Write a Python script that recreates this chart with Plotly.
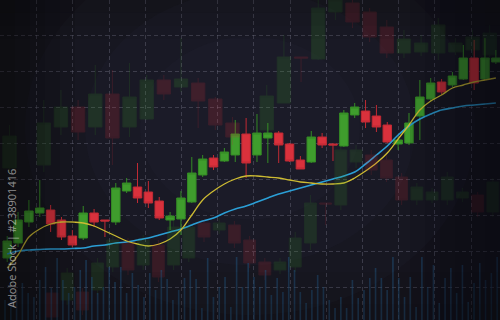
import plotly.graph_objects as go

# ---------------- data ----------------
# foreground candles (index 0..45)
fg_open  = [62, 77, 98, 107, 110, 100, 84, 82, 107, 100, 98, 129, 133, 128, 119, 100, 101, 118, 145, 162,
            159, 165, 186, 165, 182, 187, 176, 160, 158, 183, 176, 174, 205, 209, 204, 195, 176, 177, 204, 221,
            238, 235, 241, 262, 241, 258]
fg_high  = [84, 108, 120, 140, 115, 103, 90, 114, 111, 100, 137, 142, 157, 139, 123, 108, 129, 163, 165, 165,
            172, 200, 202, 206, 197, 189, 177, 164, 189, 187, 177, 210, 217, 220, 215, 198, 183, 207, 240, 242,
            241, 248, 275, 280, 282, 270]
fg_low   = [58, 73, 93, 103, 88, 80, 73, 80, 93, 83, 95, 127, 117, 112, 100, 90, 85, 117, 143, 150,
            158, 158, 142, 158, 157, 157, 158, 151, 157, 172, 159, 173, 202, 192, 188, 177, 170, 175, 180, 218,
            225, 233, 240, 230, 240, 256]
fg_close = [79, 100, 109, 112, 96, 83, 75, 107, 98, 99, 132, 137, 122, 117, 102, 104, 122, 147, 161, 153,
            168, 186, 157, 187, 187, 175, 159, 151, 183, 175, 175, 207, 213, 198, 193, 178, 180, 197, 223, 237,
            228, 244, 262, 237, 262, 262]

# moving averages sampled at each foreground candle
ma_slow = [52, 65, 83, 91, 96, 98, 98, 97, 94, 89, 84, 79, 76, 74, 76, 81, 90, 105, 120, 129,
           136, 141, 144, 144, 143, 142, 140, 138, 137, 136, 136, 137, 142, 149, 157, 167, 181, 195, 210, 219,
           225, 232, 235, 238, 240, 242]
ma_long = [66, 69, 70, 70.5, 71, 71, 71.5, 72, 74, 75, 77, 78, 80, 82, 85, 88, 91, 95, 99, 102,
           107, 111, 114, 118, 122, 126, 129, 132, 135, 138, 141, 144, 148, 156, 165, 174, 185, 194, 201, 206,
           210, 212, 214, 215, 216, 217]

# faded background candles, upper layer (index 0..28)
bgA_open  = [152, None, 155, 193, 213, 193, 226, 193, 201, 240, 233, 237, 221, 197, None, 190, 217, 263, 261, 308,
             317, 308, 293, 267, 268, 267, 268, 270, 265]
bgA_high  = [195, None, 220, 230, 220, 255, 250, 257, 245, 245, 282, 242, 223, 203, None, 235, 285, 263, 320, 320,
             320, 312, 300, 290, 285, 302, 282, 290, 295]
bgA_low   = [145, None, 148, 185, 180, 185, 155, 183, 200, 220, 228, 192, 190, 175, None, 187, 217, 238, 260, 300,
             292, 278, 262, 262, 264, 260, 265, 265, 260]
bgA_close = [184, None, 197, 213, 188, 226, 182, 223, 240, 226, 241, 219, 195, 183, None, 224, 263, 262, 312, 320,
             298, 283, 267, 281, 277, 295, 277, 283, 287]

# faded background candles, lower layer (index 0..29)
bgB_open  = [27, 20, 28, 30, 53, 77, 55, 75, 55, 62, 97, 90, 95, 80, 58, 50, 53, 77, 117, 115,
             158, 165, 160, 143, 120, 120, 120, 122, 125, 108]
bgB_high  = [30, 52, 32, 62, 88, 82, 85, 80, 100, 98, 100, 102, 99, 84, 62, 62, 88, 125, 117, 175,
             175, 170, 165, 147, 137, 132, 148, 132, 128, 142]
bgB_low   = [0, 15, 5, 25, 48, 45, 50, 38, 50, 58, 78, 86, 72, 52, 40, 46, 48, 70, 95, 110,
             152, 145, 138, 115, 115, 117, 115, 118, 103, 103]
bgB_close = [3, 47, 10, 57, 80, 50, 80, 43, 93, 93, 83, 97, 77, 57, 45, 58, 82, 117, 116, 170,
             170, 150, 142, 120, 133, 128, 143, 128, 108, 138]

# volume bars (index 0..85)
volume = [20, 25, 30, 37, 27, 23, 40, 53, 32, 62,
          40, 27, 33, 50, 60, 43, 27, 33, 53, 38,
          53, 27, 47, 35, 23, 47, 30, 50, 41, 20,
          30, 42, 50, 41, 12, 62, 23, 33, 43, 13,
          63, 33, 57, 43, 33, 50, 25, 42, 28, 63,
          50, 28, 17, 30, 45, 33, 20, 12, 23, 12,
          40, 22, 30, 42, 52, 42, 30, 63, 42, 23,
          43, 13, 63, 33, 55, 17, 42, 52, 27, 55,
          18, 37, 57, 40, 47, 63]

watermark = "Adobe Stock | #238901416"

# ---------------- styles ----------------
BG = "#15141d"
GREEN = "#3f9d2d"
GREEN_LINE = "#348a25"
RED = "#d9313c"
RED_LINE = "#c02a34"

fig = go.Figure()

def candles(o, h, l, c, xaxis, opacity):
    idx = list(range(len(o)))
    return go.Candlestick(
        x=idx, open=o, high=h, low=l, close=c, xaxis=xaxis, yaxis="y",
        increasing=dict(fillcolor=GREEN, line=dict(color=GREEN_LINE, width=1)),
        decreasing=dict(fillcolor=RED, line=dict(color=RED_LINE, width=1)),
        whiskerwidth=0, opacity=opacity, hoverinfo="skip", showlegend=False,
    )

fig.add_trace(candles(bgA_open, bgA_high, bgA_low, bgA_close, "x2", 0.19))
fig.add_trace(candles(bgB_open, bgB_high, bgB_low, bgB_close, "x3", 0.17))

fig.add_trace(go.Bar(
    x=list(range(len(volume))), y=volume, xaxis="x4", yaxis="y",
    width=0.28, marker=dict(color="rgba(32,78,118,0.55)", line=dict(width=0)),
    hoverinfo="skip", showlegend=False,
))

fig.add_trace(candles(fg_open, fg_high, fg_low, fg_close, "x", 1.0))

idx_fg = list(range(len(ma_slow)))
fig.add_trace(go.Scatter(x=idx_fg, y=ma_long, mode="lines", xaxis="x", yaxis="y",
                         line=dict(color="#2b9fd6", width=1.6, shape="spline"),
                         hoverinfo="skip", showlegend=False))
fig.add_trace(go.Scatter(x=idx_fg, y=ma_slow, mode="lines", xaxis="x", yaxis="y",
                         line=dict(color="#cdbb32", width=1.3, shape="spline"),
                         hoverinfo="skip", showlegend=False))

hidden = dict(visible=False, rangeslider=dict(visible=False), fixedrange=True)

# vignette strips
shapes = []
for k in range(1, 6):
    w = 0.03 * k
    shapes.append(dict(type="rect", xref="paper", yref="paper", x0=0, x1=w, y0=0, y1=1,
                       fillcolor="rgba(8,7,13,0.11)", line=dict(width=0), layer="above"))
for k in range(1, 7):
    w = 0.03 * k
    shapes.append(dict(type="rect", xref="paper", yref="paper", x0=1 - w, x1=1, y0=0, y1=1,
                       fillcolor="rgba(8,7,13,0.12)", line=dict(width=0), layer="above"))
for k in range(1, 4):
    h = 0.04 * k
    shapes.append(dict(type="rect", xref="paper", yref="paper", x0=0, x1=1, y0=1 - h, y1=1,
                       fillcolor="rgba(8,7,13,0.08)", line=dict(width=0), layer="above"))
for k in range(1, 4):
    h = 0.05 * k
    shapes.append(dict(type="rect", xref="paper", yref="paper", x0=0, x1=1, y0=0, y1=h,
                       fillcolor="rgba(8,7,13,0.08)", line=dict(width=0), layer="above"))
# soft light in the middle
for k, r in enumerate([0.45, 0.33, 0.22]):
    shapes.append(dict(type="circle", xref="paper", yref="paper",
                       x0=0.5 - r, x1=0.5 + r, y0=0.6 - r * 1.3, y1=0.6 + r * 1.3,
                       fillcolor="rgba(40,38,62,0.15)", line=dict(width=0), layer="below"))

fig.update_layout(
    width=500, height=320,
    margin=dict(l=0, r=0, t=0, b=0),
    paper_bgcolor=BG, plot_bgcolor=BG,
    showlegend=False,
    boxgap=0.22, boxgroupgap=0,
    xaxis=dict(range=[-0.663, 45.38], showgrid=True, tick0=-0.617, dtick=3.333,
               gridcolor="rgba(125,125,145,0.36)", gridwidth=1, griddash="4px,3px",
               showticklabels=False, ticks="", zeroline=False, showline=False,
               rangeslider=dict(visible=False), fixedrange=True),
    xaxis2=dict(overlaying="x", range=[-0.554, 28.6], **hidden),
    xaxis3=dict(overlaying="x", range=[-3.42, 29.47], **hidden),
    xaxis4=dict(overlaying="x", range=[-0.864, 85.49], **hidden),
    yaxis=dict(range=[0, 320], showgrid=True, tick0=33, dtick=36,
               gridcolor="rgba(125,125,145,0.36)", gridwidth=1, griddash="4px,3px",
               showticklabels=False, ticks="", zeroline=False, showline=False, fixedrange=True),
    shapes=shapes,
    annotations=[dict(text=watermark, xref="paper", yref="paper", x=0.024, y=0.03,
                      xanchor="center", yanchor="bottom", textangle=-90, showarrow=False,
                      font=dict(family="Open Sans, sans-serif", size=11,
                                color="rgba(255,255,255,0.55)"))],
)

fig.write_html("out.html")
